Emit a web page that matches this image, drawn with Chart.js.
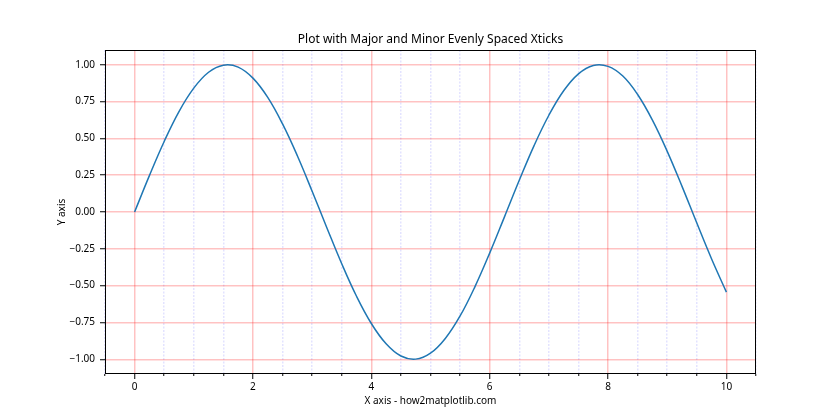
<!DOCTYPE html>
<html>
<head>
<meta charset="utf-8">
<script src="https://cdn.jsdelivr.net/npm/chart.js@4"></script>
<style>html,body{margin:0;padding:0;background:#fff;}canvas{display:block;}</style>
</head>
<body>
<canvas id="c" width="840" height="420"></canvas>
<script>
// Data
const xValues = [0,0.25,0.5,0.75,1,1.25,1.5,1.75,2,2.25,2.5,2.75,3,3.25,3.5,3.75,4,4.25,4.5,4.75,5,5.25,5.5,5.75,6,6.25,6.5,6.75,7,7.25,7.5,7.75,8,8.25,8.5,8.75,9,9.25,9.5,9.75,10];
const yValues = [0,0.247,0.479,0.682,0.841,0.949,0.997,0.984,0.909,0.778,0.598,0.382,0.141,-0.108,-0.351,-0.572,-0.757,-0.895,-0.978,-0.999,-0.959,-0.859,-0.706,-0.508,-0.279,-0.033,0.215,0.451,0.657,0.823,0.938,0.995,0.989,0.923,0.798,0.624,0.412,0.174,-0.075,-0.319,-0.544];
const xMajorTicks = [0,2,4,6,8,10];
const xMajorLabels = ['0','2','4','6','8','10'];
const xMinorTicks = [-0.5,0.5,1,1.5,2.5,3,3.5,4.5,5,5.5,6.5,7,7.5,8.5,9,9.5,10.5];
const yTicks = [-1,-0.75,-0.5,-0.25,0,0.25,0.5,0.75,1];
const yTickLabels = ['\u22121.00','\u22120.75','\u22120.50','\u22120.25','0.00','0.25','0.50','0.75','1.00'];

const FONT = '"Noto Sans", "Open Sans", sans-serif';
const tickFont = {family: FONT, size: 10};

const framePlugin = {
  id: 'frame',
  afterDatasetsDraw(chart) {
    const a = chart.chartArea, ctx = chart.ctx;
    ctx.save();
    ctx.strokeStyle = '#000';
    ctx.lineWidth = 1;
    const l = Math.round(a.left) + 0.5, t = Math.round(a.top) + 0.5;
    const r = Math.round(a.right) - 0.5, b = Math.round(a.bottom) - 0.5;
    ctx.strokeRect(l, t, r - l, b - t);
    ctx.restore();
  }
};

new Chart(document.getElementById('c'), {
  type: 'line',
  data: {
    datasets: [{
      data: xValues.map((x, i) => ({x: x, y: yValues[i]})),
      borderColor: '#1f77b4',
      borderWidth: 1.5,
      pointRadius: 0,
      tension: 0.4,
      fill: false,
      xAxisID: 'x',
      yAxisID: 'y'
    }]
  },
  options: {
    responsive: false,
    animation: false,
    layout: {padding: {left: 0, right: 84, top: 0, bottom: 0}},
    plugins: {
      legend: {display: false},
      tooltip: {enabled: false},
      title: {
        display: true,
        fullSize: false,
        text: 'Plot with Major and Minor Evenly Spaced Xticks',
        color: '#000',
        font: {family: FONT, size: 12, weight: 'normal'},
        padding: {top: 32, bottom: 3.6}
      }
    },
    scales: {
      xMinor: {
        axis: 'x',
        type: 'linear',
        position: 'bottom',
        weight: -1,
        min: -0.5, max: 10.5,
        afterBuildTicks: s => { s.ticks = xMinorTicks.map(v => ({value: v})); },
        ticks: {display: false},
        grid: {color: 'rgba(0,0,255,0.11)', lineWidth: 1.5, tickColor: '#000', tickWidth: 1, tickLength: 2, drawTicks: true},
        border: {display: false, dash: [2, 1.5]},
        afterFit: s => { s.height = 0; }
      },
      x: {
        type: 'linear',
        position: 'bottom',
        weight: 0,
        min: -0.5, max: 10.5,
        afterBuildTicks: s => { s.ticks = xMajorTicks.map(v => ({value: v})); },
        ticks: {
          color: '#000', font: tickFont, padding: 2, maxRotation: 0,
          callback: (v, i) => xMajorLabels[i]
        },
        grid: {color: 'rgba(255,0,0,0.24)', lineWidth: 1.5, tickColor: '#000', tickWidth: 1, tickLength: 5, drawTicks: true},
        border: {display: false},
        title: {display: true, text: 'X axis - how2matplotlib.com', color: '#000', font: tickFont, padding: {top: 0, bottom: 12.8}},
        afterFit: s => { s.height = 46; }
      },
      y: {
        type: 'linear',
        position: 'left',
        min: -1.1, max: 1.1,
        afterBuildTicks: s => { s.ticks = yTicks.map(v => ({value: v})); },
        ticks: {
          color: '#000', font: tickFont, padding: 5,
          callback: (v, i) => yTickLabels[i]
        },
        grid: {color: 'rgba(255,0,0,0.24)', lineWidth: 1.5, tickColor: '#000', tickWidth: 1, tickLength: 5, drawTicks: true},
        border: {display: false},
        title: {display: true, text: 'Y axis', color: '#000', font: tickFont, padding: {top: 55.8, bottom: 0}},
        afterFit: s => { s.width = 105; }
      }
    }
  },
  plugins: [framePlugin]
});
</script>
</body>
</html>
